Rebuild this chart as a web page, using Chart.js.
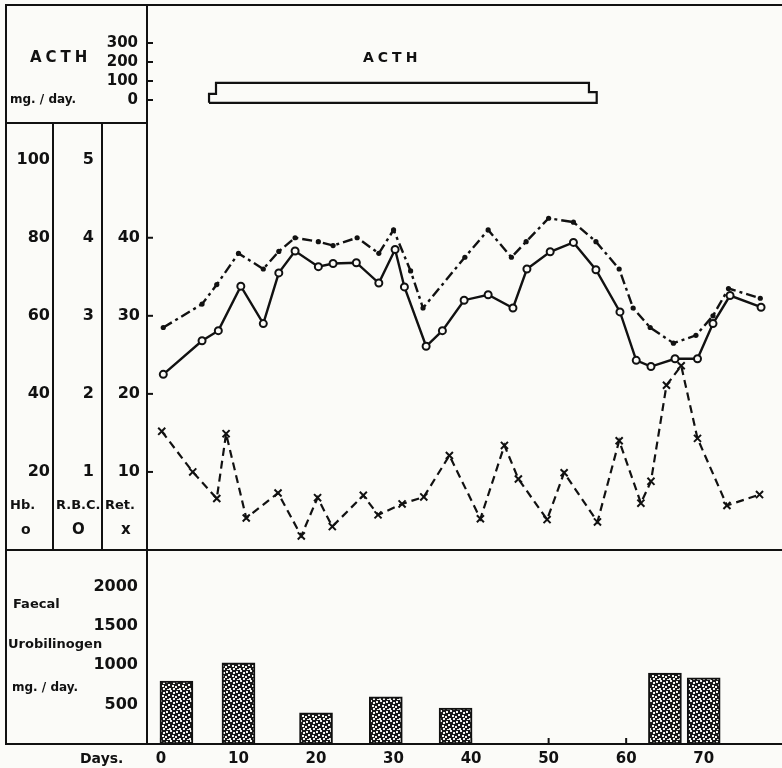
<!DOCTYPE html>
<html>
<head>
<meta charset="utf-8">
<title>ACTH chart</title>
<script src="https://cdn.jsdelivr.net/npm/chart.js@4.4.0/dist/chart.umd.min.js"></script>
<style>
body { margin: 0; background: #fbfbf8; }
#wrap { position: relative; width: 782px; height: 768px; overflow: hidden;
  font-family: "DejaVu Sans", sans-serif; font-weight: bold; color: #111; }
canvas { position: absolute; }
.ln { position: absolute; background: #111; }
.t { position: absolute; white-space: nowrap; line-height: 1; }
</style>
</head>
<body>
<div id="wrap">
  <canvas id="acthChart" width="777" height="118" style="left:5px;top:5px;width:777px;height:118px"></canvas>
  <canvas id="bloodChart" width="777" height="427" style="left:5px;top:123px;width:777px;height:427px"></canvas>
  <canvas id="faecalChart" width="777" height="218" style="left:5px;top:550px;width:777px;height:218px"></canvas>

  <!-- frame -->
  <div class="ln" style="left:5px;top:4px;width:777px;height:2px"></div>
  <div class="ln" style="left:5px;top:4px;width:2px;height:741px"></div>
  <div class="ln" style="left:5px;top:122px;width:142px;height:2px"></div>
  <div class="ln" style="left:5px;top:549px;width:777px;height:2px"></div>
  <div class="ln" style="left:146px;top:4px;width:2px;height:741px"></div>
  <div class="ln" style="left:52px;top:123px;width:2px;height:427px"></div>
  <div class="ln" style="left:101px;top:123px;width:2px;height:427px"></div>
  <div class="ln" style="left:5px;top:743px;width:777px;height:2px"></div>

  <!-- left labels -->
  <div class="t" style="left:30px;top:50px;font-size:15px;letter-spacing:4px">ACTH</div>
  <div class="t" style="left:10px;top:93px;font-size:12px">mg. / day.</div>
  <div class="t" style="left:363px;top:50px;font-size:14px;letter-spacing:4px">ACTH</div>

  <div class="t" style="left:10px;top:498px;font-size:13px">Hb.</div>
  <div class="t" style="left:56px;top:498px;font-size:13px">R.B.C.</div>
  <div class="t" style="left:105px;top:498px;font-size:13px">Ret.</div>
  <div class="t" style="left:21px;top:522px;font-size:14px">o</div>
  <div class="t" style="left:72px;top:522px;font-size:15px">O</div>
  <div class="t" style="left:121px;top:522px;font-size:15px">x</div>

  <div class="t" style="left:13px;top:597px;font-size:13px">Faecal</div>
  <div class="t" style="left:8px;top:637px;font-size:13px">Urobilinogen</div>
  <div class="t" style="left:12px;top:681px;font-size:12px">mg. / day.</div>
  <div class="t" style="left:80px;top:751px;font-size:14px">Days.</div>
</div>

<script>
// x range of the picture, in days
var dayMin = -1.8;
var dayMax = 80.1;

// ACTH dose outline (days, mg/day)
var acthOutlineDays = [6.2, 6.2, 7.1, 55.2, 56.2, 6.2];
var acthOutlineDose = [-15, 32, 90, 42, -15, -15];
var acthTicks = [0, 100, 200, 300];

// Hb (g%)
var hbDays = [0.3, 5.3, 7.2, 10, 13.2, 15.2, 17.3, 20.3, 22.2, 25.3, 28.1, 30, 32.2, 33.8, 39.2,
  42.2, 45.2, 47.1, 50, 53.2, 56.1, 59.1, 60.9, 63.1, 66.1, 69, 71.2, 73.2, 77.3];
var hbValues = [57, 63, 68, 76, 72, 76.5, 80, 79, 78, 80, 76, 82, 71.5, 62, 75,
  82, 75, 79, 85, 84, 79, 72, 62, 57, 53, 55, 60, 67, 64.5];

// R.B.C. (millions)
var rbcDays = [0.3, 5.3, 7.4, 10.3, 13.2, 15.2, 17.3, 20.3, 22.2, 25.2, 28.1, 30.2, 31.4, 34.2, 36.3,
  39.1, 42.2, 45.4, 47.2, 50.2, 53.2, 56.1, 59.2, 61.3, 63.2, 66.3, 69.2, 71.2, 73.4, 77.4];
var rbcValues = [2.25, 2.68, 2.81, 3.38, 2.9, 3.55, 3.83, 3.63, 3.67, 3.68, 3.42, 3.85, 3.37, 2.61, 2.81,
  3.2, 3.27, 3.1, 3.6, 3.82, 3.94, 3.59, 3.05, 2.43, 2.35, 2.45, 2.45, 2.9, 3.26, 3.11];

// Reticulocytes (%)
var retDays = [0.1, 4.1, 7.2, 8.4, 11, 15.1, 18.1, 20.2, 22.1, 26.1, 28, 31.1, 33.9, 37.2,
  41.2, 44.3, 46.1, 49.8, 52, 56.3, 59.1, 61.9, 63.2, 65.2, 67.1, 69.2, 73, 77.2];
var retValues = [15.2, 10, 6.6, 14.9, 4.1, 7.3, 1.8, 6.7, 3, 7, 4.5, 5.9, 6.8, 12.1,
  4, 13.4, 9.1, 3.9, 9.9, 3.6, 14, 6, 8.8, 21.1, 23.6, 14.3, 5.7, 7.1];

var hbTicks = [20, 40, 60, 80, 100];
var rbcTicks = [1, 2, 3, 4, 5];
var retTicks = [10, 20, 30, 40];

// Faecal urobilinogen (mg/day)
var faecalDays = [2, 10, 20, 29, 38, 65, 70];
var faecalValues = [800, 1030, 395, 600, 455, 900, 840];
var faecalTicks = [500, 1000, 1500, 2000];
var dayTicks = [0, 10, 20, 30, 40, 50, 60, 70];

Chart.defaults.font.family = '"DejaVu Sans", sans-serif';
Chart.defaults.font.weight = 'bold';
Chart.defaults.font.size = 15;
Chart.defaults.color = '#111';

function pts(xs, ys) {
  return xs.map(function (x, i) { return { x: x, y: ys[i] }; });
}

function fixTicks(list) {
  return function (s) { s.ticks = list.map(function (v) { return { value: v }; }); };
}

function plain(v) { return String(v); }

// fixed axis size, and no extra room kept for the end labels
function sizeY(width) {
  return function (s) { s.width = width; s.paddingTop = 0; s.paddingBottom = 0; };
}

function leftAxis(min, max, list, width, pad, weight) {
  return {
    position: 'left', min: min, max: max, weight: weight,
    grid: { display: false, drawTicks: false },
    border: { display: false },
    ticks: { padding: pad, font: { size: 16 }, callback: plain },
    afterBuildTicks: fixTicks(list),
    afterFit: sizeY(width)
  };
}

function hiddenX() {
  return { type: 'linear', min: dayMin, max: dayMax, display: false, offset: false };
}

// short tick marks pointing into the plot
var inTicks = {
  id: 'inTicks',
  beforeDatasetsDraw: function (chart, args, opts) {
    var ctx = chart.ctx;
    ctx.save();
    ctx.strokeStyle = '#111';
    ctx.lineWidth = 2;
    (opts.axes || []).forEach(function (id) {
      var s = chart.scales[id];
      s.ticks.forEach(function (t) {
        var p = s.getPixelForValue(t.value);
        ctx.beginPath();
        if (s.isHorizontal()) {
          ctx.moveTo(p, s.top); ctx.lineTo(p, s.top - opts.len);
        } else {
          ctx.moveTo(s.right, p); ctx.lineTo(s.right + opts.len, p);
        }
        ctx.stroke();
      });
    });
    ctx.restore();
  }
};

// stippled fill for the bars
function stipple() {
  var c = document.createElement('canvas');
  c.width = 10; c.height = 10;
  var g = c.getContext('2d');
  g.fillStyle = '#1a1a1a';
  g.fillRect(0, 0, 10, 10);
  g.fillStyle = '#f4f4f0';
  var specks = [[1, 1], [5, 0], [8, 2], [3, 4], [7, 5], [0, 6], [4, 8], [8, 8], [2, 9]];
  specks.forEach(function (p) { g.fillRect(p[0], p[1], 2, 2); });
  return g.createPattern(c, 'repeat');
}

var noPad = { padding: 0, autoPadding: false };

new Chart(document.getElementById('acthChart'), {
  type: 'line',
  data: {
    datasets: [{
      data: pts(acthOutlineDays, acthOutlineDose),
      stepped: 'before',
      borderColor: '#111',
      borderWidth: 2.2,
      pointRadius: 0,
      fill: false
    }]
  },
  options: {
    responsive: false, animation: false,
    layout: noPad,
    plugins: { legend: { display: false }, tooltip: { enabled: false }, inTicks: { axes: ['y'], len: 6 } },
    scales: {
      x: hiddenX(),
      y: {
        position: 'left', min: -121, max: 500,
        grid: { display: false, drawTicks: false },
        border: { display: false },
        ticks: { padding: 9, callback: plain },
        afterBuildTicks: fixTicks(acthTicks),
        afterFit: sizeY(142)
      }
    }
  },
  plugins: [inTicks]
});

new Chart(document.getElementById('bloodChart'), {
  type: 'line',
  data: {
    datasets: [{
      label: 'Hb.',
      yAxisID: 'hb',
      data: pts(hbDays, hbValues),
      borderColor: '#111',
      borderWidth: 2.4,
      borderDash: [10, 4, 3, 4],
      pointRadius: 2.6,
      pointBackgroundColor: '#111',
      pointBorderWidth: 0
    }, {
      label: 'R.B.C.',
      yAxisID: 'rbc',
      data: pts(rbcDays, rbcValues),
      borderColor: '#111',
      borderWidth: 2.4,
      pointRadius: 3.5,
      pointBackgroundColor: '#fbfbf8',
      pointBorderColor: '#111',
      pointBorderWidth: 2
    }, {
      label: 'Ret.',
      yAxisID: 'ret',
      data: pts(retDays, retValues),
      borderColor: '#111',
      borderWidth: 2.2,
      borderDash: [8, 5],
      pointStyle: 'crossRot',
      pointRadius: 5,
      pointBorderColor: '#111',
      pointBorderWidth: 2
    }]
  },
  options: {
    responsive: false, animation: false,
    layout: noPad,
    plugins: { legend: { display: false }, tooltip: { enabled: false }, inTicks: { axes: ['ret'], len: 6 } },
    scales: {
      x: hiddenX(),
      ret: leftAxis(0, 54.7, retTicks, 45, 7, 1),
      rbc: leftAxis(0, 5.47, rbcTicks, 49, 8, 2),
      hb: leftAxis(0, 109.4, hbTicks, 48, 3, 3)
    }
  },
  plugins: [inTicks]
});

new Chart(document.getElementById('faecalChart'), {
  type: 'bar',
  data: {
    datasets: [{
      data: pts(faecalDays, faecalValues),
      backgroundColor: stipple(),
      borderColor: '#111',
      borderWidth: 2,
      borderSkipped: false,
      barThickness: 33
    }]
  },
  options: {
    responsive: false, animation: false,
    layout: noPad,
    plugins: { legend: { display: false }, tooltip: { enabled: false }, inTicks: { axes: ['x'], len: 6 } },
    scales: {
      x: {
        type: 'linear', min: dayMin, max: dayMax, offset: false,
        grid: { display: false, drawTicks: false },
        border: { display: false },
        ticks: { padding: 6, callback: plain },
        afterBuildTicks: fixTicks(dayTicks),
        afterFit: function (s) { s.height = 24; s.paddingLeft = 0; s.paddingRight = 0; }
      },
      y: {
        position: 'left', min: 0, max: 2465,
        grid: { display: false, drawTicks: false },
        border: { display: false },
        ticks: { padding: 9, font: { size: 16 }, callback: plain },
        afterBuildTicks: fixTicks(faecalTicks),
        afterFit: sizeY(142)
      }
    }
  },
  plugins: [inTicks]
});
</script>
</body>
</html>
